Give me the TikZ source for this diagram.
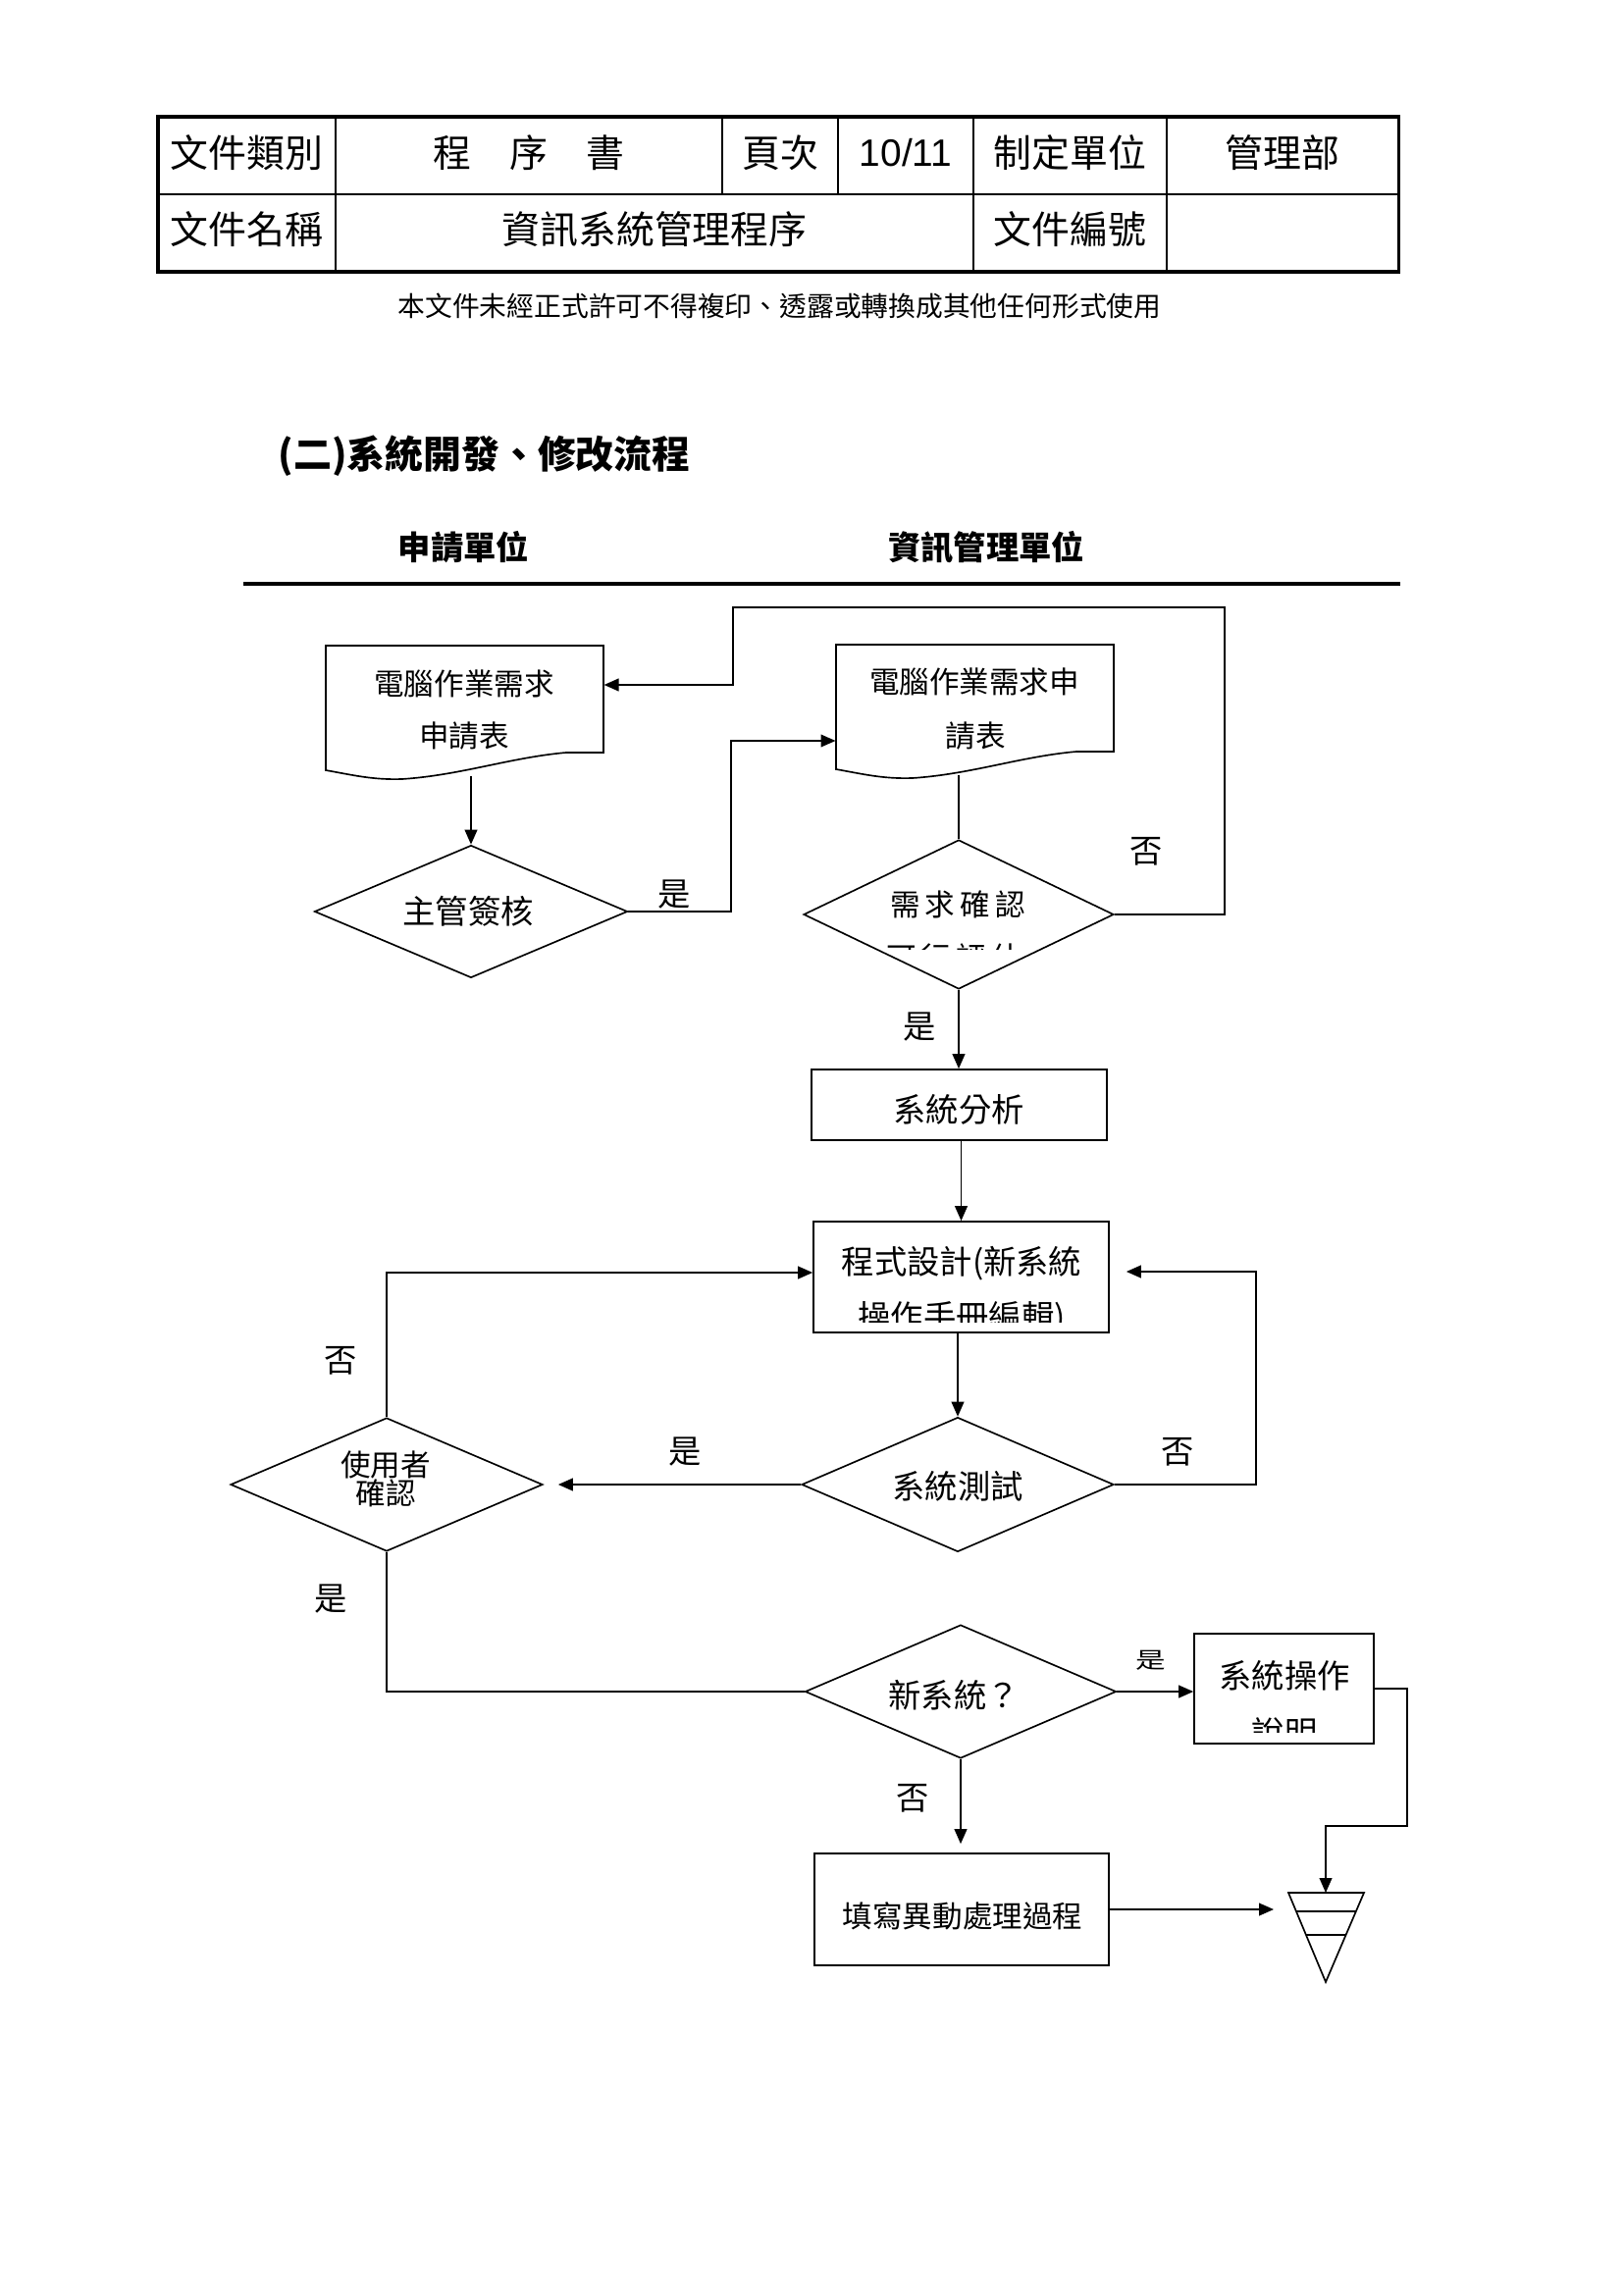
\documentclass[tikz,border=0pt]{standalone}
\usepackage{fontspec}
\usepackage{graphicx}
\usetikzlibrary{arrows.meta,shapes.geometric,calc}
\newfontfamily\cjk{Noto Sans CJK TC}
\newfontfamily\arialf{Liberation Sans}
\newcommand\pxu{0.127mm}
\tikzset{
  ln/.style={line width=0.6pt},
  arr/.style={-{Triangle[length=5.4pt,width=4.6pt]}},
  boxs/.style={draw, line width=0.6pt, rectangle, inner sep=0pt},
  dia/.style={draw, line width=0.6pt, diamond, inner sep=0pt},
  ghost/.style={rectangle, inner sep=0pt, draw=none},
  tA/.style={inner sep=0pt, font=\cjk\fontsize{11bp}{13bp}\selectfont},
  tB/.style={inner sep=0pt, font=\cjk\fontsize{12bp}{14bp}\selectfont},
  tT/.style={inner sep=0pt, font=\cjk\fontsize{14bp}{16bp}\selectfont},
  tF/.style={inner sep=0pt, font=\cjk\fontsize{10bp}{12bp}\selectfont},
}
\newcommand\cjsp{\hspace{0.17em}}
\begin{document}
\begin{tikzpicture}[x=0.127mm,y=-0.127mm]
\fill[white] (0,0) rectangle (1654,2339);
\useasboundingbox (0,0) rectangle (1654,2339);

% ---------- header table ----------
\draw[line width=0.8pt] (161,198) -- (1425,198);
\foreach \x in {342,736,854,992,1189} \draw[line width=0.5pt] (\x,119) -- (\x,198);
\foreach \x in {342,992,1189} \draw[line width=0.5pt] (\x,198) -- (\x,277);
\draw[line width=1.1pt] (161,119) rectangle (1425,277);

\node[tT] (h1) at (251.5,156) {文件類別};
\node[tT] (h2) at (539,156) {程　序　書};
\node[tT] (h3) at (795,156) {頁次};
\node[inner sep=0pt, font=\arialf\fontsize{14bp}{16bp}\selectfont] (h4) at (923,156) {10/11};
\node[tT] (h5) at (1090.5,156) {制定單位};
\node[tT] (h6) at (1307,156) {管理部};
\node[tT] (h7) at (251.5,234) {文件名稱};
\node[tT] (h8) at (667,234) {資訊系統管理程序};
\node[tT] (h9) at (1090.5,234) {文件編號};

\node[tF] (foot) at (794.5,312) {本文件未經正式許可不得複印、透露或轉換成其他任何形式使用};

% ---------- title and lanes ----------
\node[tT, anchor=west, font=\cjk\bfseries\fontsize{14bp}{16bp}\selectfont] (title) at (283,465) {(二)系統開發、修改流程};
\node[tB, font=\cjk\bfseries\fontsize{12bp}{14bp}\selectfont] (lane1) at (472.5,558) {申請單位};
\node[tB, font=\cjk\bfseries\fontsize{12bp}{14bp}\selectfont] (lane2) at (1005,558) {資訊管理單位};
\draw[line width=1.1pt] (248,595) -- (1427,595);

% ---------- documents ----------
\node[ghost, minimum width={283*\pxu}, minimum height={132*\pxu}] (doc1) at (473.5,724) {};
\draw[ln] (332,785) -- (332,658) -- (615,658) -- (615,767) -- (577,767)
  .. controls (520,772) and (470,790) .. (410,794)
  .. controls (380,795) and (360,790) .. (332,785) -- cycle;
\node[tA] (doc1a) at (473,697) {電腦作業需求};
\node[tA] (doc1b) at (473,750) {申請表};

\node[ghost, minimum width={283*\pxu}, minimum height={132*\pxu}] (doc2) at (993.5,723.5) {};
\draw[ln] (852,784) -- (852,657) -- (1135,657) -- (1135,766) -- (1097,766)
  .. controls (1040,771) and (990,789) .. (930,793)
  .. controls (900,794) and (880,789) .. (852,784) -- cycle;
\node[tA] (doc2a) at (993,695) {電腦作業需求申};
\node[tA] (doc2b) at (994,750) {請表};

% ---------- diamonds ----------
\node[dia, minimum width={319*\pxu}, minimum height={135*\pxu}] (dia1) at (480,929) {};
\node[tB] (dia1t) at (477,929) {主管簽核};

\node[dia, minimum width={316*\pxu}, minimum height={152*\pxu}] (dia2) at (977,932) {};
\node[tA] (dia2t) at (976,922) {需\cjsp 求\cjsp 確\cjsp 認};
\begin{scope}
  \clip (830,900) rectangle (1120,967);
  \node[tA] (dia2u) at (972,976) {可\cjsp 行\cjsp 評\cjsp 估};
\end{scope}

% ---------- boxes ----------
\node[boxs, minimum width={301*\pxu}, minimum height={72*\pxu}] (ana) at (977.5,1126) {};
\node[tB] (anat) at (977,1131) {系統分析};

\node[boxs, minimum width={301*\pxu}, minimum height={113*\pxu}] (prog) at (979.5,1301.5) {};
\node[tB] (progt) at (980,1288) {程式設計(新系統};
\begin{scope}
  \clip (835,1300) rectangle (1125,1347);
  \node[tB] (progu) at (980,1344) {操作手冊編輯)};
\end{scope}

\node[dia, minimum width={318*\pxu}, minimum height={137*\pxu}] (test) at (976,1513) {};
\node[tB] (testt) at (976,1515) {系統測試};

\node[dia, minimum width={318*\pxu}, minimum height={136*\pxu}] (user) at (394,1513) {};
\node[tA] (usera) at (393,1493) {使用者};
\node[tA] (userb) at (393,1522) {確認};

\node[dia, minimum width={317*\pxu}, minimum height={136*\pxu}] (new) at (979,1724) {};
\node[tB] (newt) at (972,1728) {新系統？};

\node[boxs, minimum width={183*\pxu}, minimum height={112*\pxu}] (ops) at (1308.5,1721) {};
\node[tB] (opst) at (1309,1708) {系統操作};
\begin{scope}
  \clip (1222,1740) rectangle (1396,1765);
  \node[tB] (opsu) at (1309,1766) {說明};
\end{scope}

\node[boxs, minimum width={300*\pxu}, minimum height={114*\pxu}] (fillp) at (980,1946) {};
\node[tA] (fillt) at (981,1953) {填寫異動處理過程};

% ---------- end symbol (triangle) ----------
\coordinate (tri) at (1351,1929);
\draw[ln] (1313,1929) -- (1390,1929) -- (1351,2020) -- cycle;
\draw[ln] (1321,1948) -- (1382,1948);
\draw[ln] (1331,1972) -- (1372,1972);

% ---------- connectors ----------
\coordinate (yp1) at (745,755);
\coordinate (lp1) at (1248,619);
\coordinate (lp2) at (747,698);
\coordinate (np1) at (1280,1296);
\coordinate (ny1) at (394,1297);
\coordinate (op1) at (1434,1861);
\coordinate (triL) at (1298,1949);

\draw[ln,arr] (doc1.south -| dia1.north) -- (dia1.north);
\draw[ln,arr] (dia1.east) -| (yp1) -- (doc2.west |- yp1);
\draw[ln] (doc2.south -| dia2.north) -- (dia2.north);
\draw[ln,arr] (dia2.east) -| (lp1) -| (lp2) -- (doc1.east |- lp2);
\draw[ln,arr] (dia2.south) -- (ana.north -| dia2.south);
\draw[ln,arr] (ana.south -| prog.north) -- (prog.north);
\draw[ln,arr] (prog.south -| test.north) -- (test.north);
\draw[ln,arr] (test.west) -- ($(user.east)+(15,0)$);
\draw[ln,arr] (test.east) -| (np1) -- ($(prog.east |- np1)+(17,0)$);
\draw[ln,arr] (user.north) -- (ny1) -- (prog.west |- ny1);
\draw[ln] (user.south) |- (new.west);
\draw[ln,arr] (new.east) -- (ops.west |- new.east);
\draw[ln,arr] (new.south) -- ($(fillp.north -| new.south)+(0,-9)$);
\draw[ln,arr] (fillp.east) -- (fillp.east -| triL);
\draw[ln,arr] (ops.east) -| (op1) -| (tri);

% ---------- labels ----------
\node[tB] (l1) at (687,912) {是};
\node[tB] (l2) at (1168,868) {否};
\node[tB] (l3) at (937,1047) {是};
\node[tB] (l4) at (347,1387) {否};
\node[tB] (l5) at (698,1480) {是};
\node[tB] (l6) at (1200,1480) {否};
\node[tB] (l7) at (337,1630) {是};
\node[tA] (l8) at (1173,1692) {\scalebox{1}[0.75]{是}};
\node[tB] (l9) at (930,1833) {否};
\end{tikzpicture}
\end{document}
